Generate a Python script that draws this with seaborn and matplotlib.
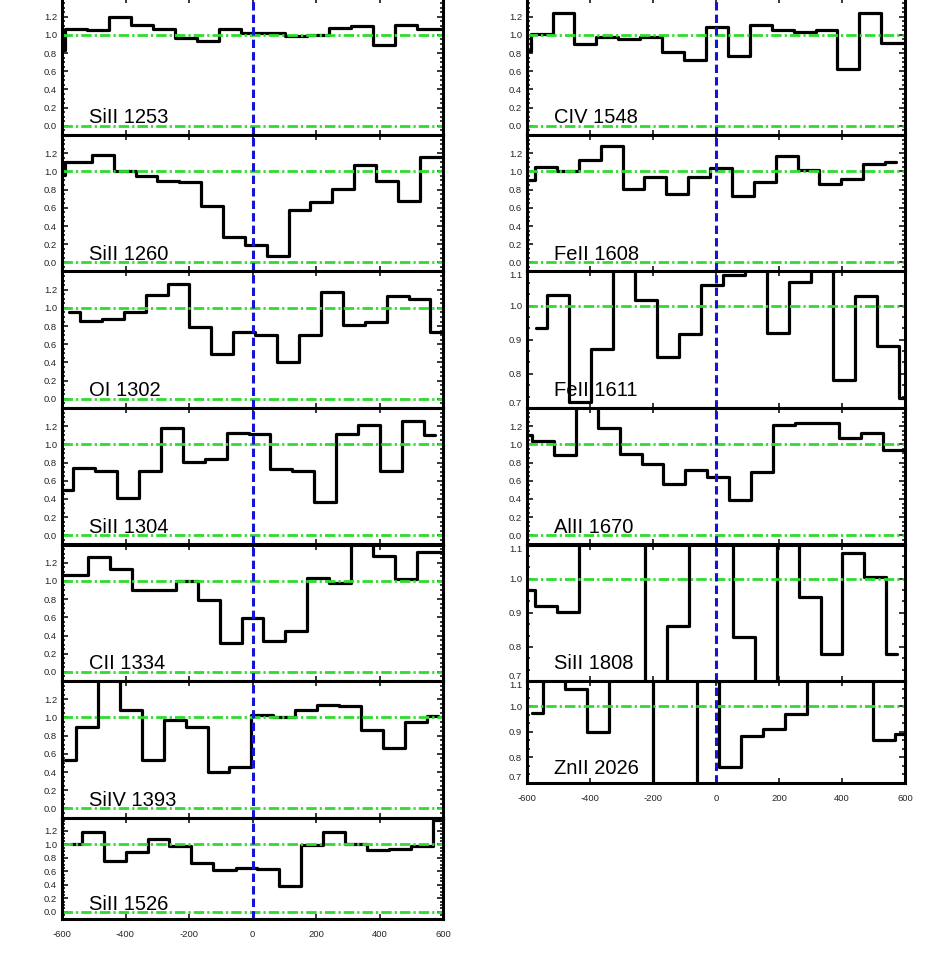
import matplotlib
matplotlib.use("Agg")
import matplotlib.pyplot as plt
from matplotlib.ticker import FixedLocator, AutoMinorLocator
import seaborn as sns

# ---- normalised flux versus velocity (km/s) for each transition ----
vel_si2_1253 = [-625, -556, -487, -417, -348, -279, -209, -140, -71, -1, 68, 137, 207, 276, 345, 415, 484, 553, 623]
flux_si2_1253 = [0.83, 1.06, 1.05, 1.20, 1.11, 1.07, 0.97, 0.93, 1.06, 1.02, 1.02, 0.99, 1.00, 1.08, 1.10, 0.89, 1.11, 1.07, 1.07]

vel_si2_1260 = [-640, -541, -472, -403, -334, -266, -197, -128, -59, 10, 79, 148, 217, 286, 355, 424, 492, 561, 630]
flux_si2_1260 = [0.96, 1.10, 1.18, 1.00, 0.95, 0.89, 0.88, 0.62, 0.28, 0.19, 0.07, 0.58, 0.66, 0.81, 1.07, 0.89, 0.67, 1.16, 1.16]

vel_o1_1302 = [-578, -509, -440, -371, -302, -233, -164, -95, -26, 43, 112, 181, 250, 319, 388, 457, 526, 595]
flux_o1_1302 = [0.96, 0.86, 0.88, 0.96, 1.14, 1.26, 0.79, 0.49, 0.74, 0.70, 0.41, 0.70, 1.17, 0.81, 0.84, 1.13, 1.10, 0.73]

vel_si2_1304 = [-599, -530, -461, -392, -323, -254, -185, -116, -47, 22, 91, 160, 229, 298, 367, 436, 505, 574]
flux_si2_1304 = [0.50, 0.74, 0.71, 0.41, 0.71, 1.18, 0.81, 0.84, 1.13, 1.11, 0.73, 0.71, 0.37, 1.11, 1.21, 0.71, 1.26, 1.10]

vel_c2_1334 = [-621, -552, -483, -414, -345, -276, -207, -138, -69, 0, 69, 138, 207, 276, 345, 414, 483, 552, 621]
flux_c2_1334 = [1.06, 1.06, 1.26, 1.13, 0.90, 0.90, 1.00, 0.79, 0.32, 0.59, 0.34, 0.45, 1.03, 0.98, 1.50, 1.27, 1.02, 1.32, 1.32]

vel_si4_1393 = [-590, -521, -452, -383, -314, -245, -176, -107, -38, 31, 100, 169, 238, 307, 376, 445, 514, 583]
flux_si4_1393 = [0.53, 0.89, 1.50, 1.08, 0.53, 0.97, 0.89, 0.40, 0.46, 1.03, 1.00, 1.08, 1.14, 1.12, 0.86, 0.66, 0.95, 1.02]

vel_si2_1526 = [-573, -504, -434, -365, -296, -227, -158, -88, -19, 50, 119, 188, 258, 327, 396, 465, 535, 604]
flux_si2_1526 = [1.00, 1.18, 0.76, 0.89, 1.08, 0.97, 0.73, 0.62, 0.65, 0.63, 0.38, 0.99, 1.18, 1.00, 0.92, 0.93, 0.97, 1.37]

vel_c4_1548 = [-623, -554, -484, -415, -345, -275, -206, -136, -67, 3, 73, 142, 212, 281, 351, 420, 490, 560, 629]
flux_c4_1548 = [0.82, 1.01, 1.24, 0.90, 0.98, 0.95, 0.98, 0.81, 0.72, 1.09, 0.77, 1.11, 1.05, 1.03, 1.05, 0.62, 1.24, 0.91, 0.91]

vel_fe2_1608 = [-609, -540, -470, -401, -331, -262, -192, -123, -53, 16, 86, 155, 225, 294, 363, 433, 502, 571]
flux_fe2_1608 = [0.91, 1.05, 1.00, 1.12, 1.28, 0.81, 0.94, 0.75, 0.94, 1.04, 0.73, 0.88, 1.17, 1.02, 0.86, 0.92, 1.08, 1.10]

vel_fe2_1611 = [-572, -503, -433, -363, -293, -223, -153, -83, -13, 57, 127, 196, 266, 336, 406, 476, 546, 616]
flux_fe2_1611 = [0.933, 1.031, 0.717, 0.873, 1.15, 1.017, 0.850, 0.917, 1.060, 1.09, 1.15, 0.921, 1.070, 1.15, 0.782, 1.028, 0.883, 0.728]

vel_al2_1670 = [-620, -550, -480, -411, -341, -271, -202, -132, -62, 7, 77, 147, 216, 286, 356, 425, 495, 565, 634]
flux_al2_1670 = [1.10, 1.04, 0.88, 1.50, 1.18, 0.89, 0.79, 0.57, 0.72, 0.64, 0.39, 0.70, 1.21, 1.23, 1.24, 1.07, 1.13, 0.94, 0.94]

vel_si2_1808 = [-609, -540, -470, -400, -331, -261, -191, -121, -52, 18, 88, 158, 227, 297, 367, 436, 506, 576]
flux_si2_1808 = [0.968, 0.919, 0.902, 1.20, 1.20, 1.20, 0.60, 0.862, 1.20, 1.20, 0.83, 0.60, 1.20, 0.945, 0.779, 1.075, 1.004, 0.779]

vel_zn2_2026 = [-583, -513, -443, -373, -304, -234, -164, -94, -25, 45, 115, 184, 254, 323, 393, 463, 532, 602]
flux_zn2_2026 = [0.973, 1.20, 1.068, 0.900, 1.20, 1.20, 0.60, 0.60, 1.20, 0.762, 0.883, 0.911, 0.970, 1.20, 1.20, 1.20, 0.867, 0.890]

# ---- axis ticks ----
vel_ticks = [-600, -400, -200, 0, 200, 400, 600]
flux_ticks_wide = [0.0, 0.2, 0.4, 0.6, 0.8, 1.0, 1.2]
flux_ticks_narrow = [0.7, 0.8, 0.9, 1.0, 1.1]

left_column = [
    ("SiII 1253", vel_si2_1253, flux_si2_1253, "wide"),
    ("SiII 1260", vel_si2_1260, flux_si2_1260, "wide"),
    ("OI 1302", vel_o1_1302, flux_o1_1302, "wide"),
    ("SiII 1304", vel_si2_1304, flux_si2_1304, "wide"),
    ("CII 1334", vel_c2_1334, flux_c2_1334, "wide"),
    ("SiIV 1393", vel_si4_1393, flux_si4_1393, "wide"),
    ("SiII 1526", vel_si2_1526, flux_si2_1526, "wide"),
]
right_column = [
    ("CIV 1548", vel_c4_1548, flux_c4_1548, "wide"),
    ("FeII 1608", vel_fe2_1608, flux_fe2_1608, "wide"),
    ("FeII 1611", vel_fe2_1611, flux_fe2_1611, "narrow"),
    ("AlII 1670", vel_al2_1670, flux_al2_1670, "wide"),
    ("SiII 1808", vel_si2_1808, flux_si2_1808, "narrow"),
    ("ZnII 2026", vel_zn2_2026, flux_zn2_2026, "narrow"),
]

# ---- style ----
sns.set_style("ticks")
plt.rcParams["font.family"] = ["Liberation Sans", "DejaVu Sans"]
plt.rcParams["lines.scale_dashes"] = False

GREEN = "#2fdc2f"
BLUE = "#1414d8"
W, H = 927, 955

fig = plt.figure(figsize=(W / 100, H / 100), dpi=100)
fig.patch.set_facecolor("white")

# panel edges in pixels (top, bottom) for each column
left_edges = [(-1.5, 135), (135, 271.5), (271.5, 408), (408, 544.5),
              (544.5, 681), (681, 817.5), (817.5, 918.5)]
right_edges = [(-1.5, 135), (135, 271.5), (271.5, 408), (408, 544.5),
               (544.5, 681), (681, 782.5)]


def draw_column(panels, edges, x0, x1):
    n = len(panels)
    for i, ((name, vel, flux, kind), (ytop, ybot)) in enumerate(zip(panels, edges)):
        ax = fig.add_axes([x0 / W, 1 - ybot / H, (x1 - x0) / W, (ybot - ytop) / H])
        ax.set_facecolor("white")
        sns.lineplot(x=vel, y=flux, ax=ax, color="black", linewidth=2.3,
                     drawstyle="steps-mid", errorbar=None, sort=False, zorder=2)
        ax.axhline(1.0, color=GREEN, linewidth=2.0, dashes=(7.5, 2.2, 1.6, 2.2), zorder=3)
        if kind == "wide":
            ax.axhline(0.0, color=GREEN, linewidth=2.0, dashes=(7.5, 2.2, 1.6, 2.2), zorder=3)
        ax.axvline(0.0, color=BLUE, linewidth=2.2, dashes=(6, 3), zorder=4)

        ax.set_xlim(-600, 600)
        if kind == "wide":
            ax.set_ylim(-0.1, 1.4)
            ax.yaxis.set_major_locator(FixedLocator(flux_ticks_wide))
            ax.yaxis.set_minor_locator(AutoMinorLocator(4))
        else:
            ax.set_ylim(0.7, 1.1)
            ax.yaxis.set_major_locator(FixedLocator(flux_ticks_narrow))
            ax.yaxis.set_minor_locator(AutoMinorLocator(3))
        ax.yaxis.set_major_formatter(plt.FormatStrFormatter("%.1f"))
        ax.xaxis.set_major_locator(FixedLocator(vel_ticks))
        ax.xaxis.set_major_formatter(plt.FormatStrFormatter("%d"))
        ax.set_xlabel("")
        ax.set_ylabel("")

        for side in ax.spines.values():
            side.set_linewidth(2.2)
            side.set_color("black")
            side.set_zorder(5)
        ax.tick_params(axis="both", which="both", direction="in",
                       top=True, bottom=True, left=True, right=True,
                       width=1.1, color="black", labelsize=6.8)
        ax.tick_params(axis="y", which="major", length=4.5, pad=3.5)
        ax.tick_params(axis="y", which="minor", length=2.2)
        ax.tick_params(axis="x", which="major", length=3.5, pad=8.5)
        ax.tick_params(axis="x", which="minor", length=0)
        if i < n - 1:
            ax.tick_params(axis="x", labelbottom=False)

        if kind == "narrow":
            labels = ax.get_yticklabels()
            labels[0].set_verticalalignment("bottom")
            labels[-1].set_verticalalignment("top")

        ax.text(0.071, 0.085, name, transform=ax.transAxes, fontsize=14.5,
                ha="left", va="baseline", color="black", zorder=6)


draw_column(left_column, left_edges, 62, 443)
draw_column(right_column, right_edges, 527, 905)

fig.savefig("out.png", dpi=100, facecolor="white")
